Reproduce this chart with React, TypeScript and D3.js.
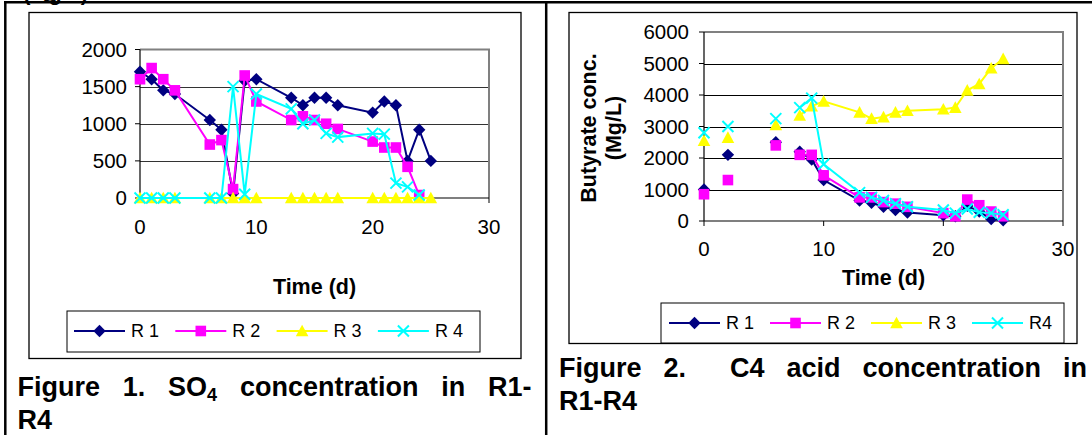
import React, { useLayoutEffect, useRef } from 'react';
import * as d3 from 'd3';

const FONT = 'Arial, "Liberation Sans", Helvetica, sans-serif';

// ---------- Figure 1: SO4 concentration ----------
const so4Days = [0, 1, 2, 3, 6, 7, 8, 9, 10, 13, 14, 15, 16, 17, 20, 21, 22, 23, 24, 25];
const so4R1 = [1700, 1600, 1450, 1400, 1050, 920, 60, 1580, 1600, 1350, 1250, 1350, 1350, 1250, 1150, 1300, 1250, 500, 920, 500];
const so4R2 = [1600, 1750, 1600, 1450, 720, 780, 120, 1650, 1300, 1050, 1100, 1050, 1000, 930, 760, 680, 680, 420, 40, null];
const so4R3 = [0, 0, 0, 0, 0, 0, 0, 0, 0, 0, 0, 0, 0, 0, 0, 0, 0, 0, 0, 0];
const so4R4 = [0, 0, 0, 0, 0, 0, 1500, 50, 1400, 1200, 1000, 1050, 870, 820, 870, 860, 200, 150, 40, null];
const so4YTicks = [0, 500, 1000, 1500, 2000];

// ---------- Figure 2: C4 (butyrate) concentration ----------
const c4Days = [0, 2, 6, 8, 9, 10, 13, 14, 15, 16, 17, 20, 21, 22, 23, 24, 25];
const c4IsolatedDays = [0, 2, 6]; // entered with blank rows around them: markers only
const c4R1 = [1000, 2100, 2500, 2200, 1950, 1300, 650, 580, 450, 350, 270, 180, 150, 480, 300, 60, 20];
const c4R2 = [850, 1300, 2400, 2100, 2100, 1450, 750, 750, 600, 550, 450, 250, 150, 680, 500, 300, 150];
const c4R3 = [2550, 2650, 3050, 3350, 3650, 3800, 3450, 3250, 3300, 3450, 3500, 3550, 3600, 4150, 4350, 4850, 5150];
const c4R4 = [2800, 3000, 3250, 3600, 3900, 1800, 900, 750, 650, 550, 450, 350, 250, 380, 280, 250, 200];
const c4YTicks = [0, 1000, 2000, 3000, 4000, 5000, 6000];

const xTicks = [0, 10, 20, 30];
const fig1Names = ['R 1', 'R 2', 'R 3', 'R 4'];
const fig2Names = ['R 1', 'R 2', 'R 3', 'R4'];
const colors = ['#000080', '#FF00FF', '#FFFF00', '#00FFFF'];
const markerTypes = ['diamond', 'square', 'triangle', 'x'];

const TICK_FS = 20.5;
const TITLE_FS = 21.5;
const LEGEND_FS = 18;
const CAPTION_FS = 27;

type Series = { name: string; color: string; marker: string; values: (number | null)[] };

function Marker({ type, x, y, color }: { type: string; x: number; y: number; color: string }) {
  if (type === 'diamond') {
    const r = 6.2;
    return <path d={`M${x},${y - r}L${x + r},${y}L${x},${y + r}L${x - r},${y}Z`} fill={color} />;
  }
  if (type === 'square') {
    const r = 5.3;
    return <rect x={x - r} y={y - r} width={2 * r} height={2 * r} fill={color} />;
  }
  if (type === 'triangle') {
    const r = 6.3;
    return <path d={`M${x},${y - r}L${x + r},${y + r * 0.85}L${x - r},${y + r * 0.85}Z`} fill={color} />;
  }
  const r = 5.5;
  return (
    <path
      d={`M${x - r},${y - r}L${x + r},${y + r}M${x - r},${y + r}L${x + r},${y - r}`}
      stroke={color}
      strokeWidth={2}
      fill="none"
    />
  );
}

type ChartProps = {
  box: { x: number; y: number; w: number; h: number };
  plot: { l: number; r: number; t: number; b: number };
  days: number[];
  connected: boolean[];
  series: Series[];
  yMax: number;
  yTicks: number[];
  yLabelX: number;
  xLabelY: number;
  xTitleY: number;
  yTitle: string[];
  yTitleX: number[];
  yTitleCY: number;
  gridColor: string;
  legend: { x: number; y: number; w: number; h: number; x0: number; step: number; ty: number };
};

function Chart(p: ChartProps) {
  const x = d3.scaleLinear().domain([0, 30]).range([p.plot.l, p.plot.r]);
  const y = d3.scaleLinear().domain([0, p.yMax]).range([p.plot.b, p.plot.t]);
  return (
    <g>
      <rect x={p.box.x} y={p.box.y} width={p.box.w} height={p.box.h} fill="#fff" stroke="#000" strokeWidth={1.3} />
      {/* gridlines */}
      {p.yTicks.filter((t) => t > 0 && t < p.yMax).map((t) => (
        <line key={t} x1={p.plot.l} x2={p.plot.r} y1={Math.round(y(t)) + 0.5} y2={Math.round(y(t)) + 0.5} stroke={p.gridColor} strokeWidth={1} />
      ))}
      {/* plot border top/right */}
      <path
        d={`M${p.plot.l},${y(p.yMax)}H${p.plot.r}V${p.plot.b}`}
        fill="none"
        stroke="#808080"
        strokeWidth={2}
      />
      {/* axes */}
      <line x1={p.plot.l} x2={p.plot.l} y1={y(p.yMax)} y2={p.plot.b} stroke="#000" strokeWidth={1.2} />
      <line x1={p.plot.l} x2={p.plot.r} y1={p.plot.b} y2={p.plot.b} stroke="#000" strokeWidth={1.2} />
      {p.yTicks.map((t) => (
        <g key={t}>
          <line x1={p.plot.l - 5} x2={p.plot.l} y1={y(t)} y2={y(t)} stroke="#000" strokeWidth={1} />
          <text x={p.yLabelX} y={y(t) + TICK_FS * 0.36} textAnchor="end" fontSize={TICK_FS}>
            {t}
          </text>
        </g>
      ))}
      {xTicks.map((t) => (
        <g key={t}>
          <line x1={x(t)} x2={x(t)} y1={p.plot.b} y2={p.plot.b + 5} stroke="#000" strokeWidth={1} />
          <text x={x(t)} y={p.xLabelY} textAnchor="middle" fontSize={TICK_FS}>
            {t}
          </text>
        </g>
      ))}
      {/* series */}
      {p.series.map((s) => {
        const line = d3
          .line<number | null>()
          .defined((v, i) => v != null && p.connected[i])
          .x((_, i) => x(p.days[i]))
          .y((v) => y(v as number));
        return (
          <g key={s.name}>
            <path d={line(s.values) || ''} fill="none" stroke={s.color} strokeWidth={2} />
            {s.values.map((v, i) =>
              v == null ? null : <Marker key={i} type={s.marker} x={x(p.days[i])} y={y(v)} color={s.color} />
            )}
          </g>
        );
      })}
      {/* titles */}
      <text x={(p.plot.l + p.plot.r) / 2} y={p.xTitleY} textAnchor="middle" fontSize={TITLE_FS} fontWeight="bold">
        Time (d)
      </text>
      {p.yTitle.map((t, i) => (
        <text
          key={t}
          transform={`translate(${p.yTitleX[i]},${p.yTitleCY}) rotate(-90)`}
          textAnchor="middle"
          fontSize={TITLE_FS}
          fontWeight="bold"
        >
          {t}
        </text>
      ))}
      {/* legend */}
      <rect x={p.legend.x} y={p.legend.y} width={p.legend.w} height={p.legend.h} fill="#fff" stroke="#000" strokeWidth={1} />
      {p.series.map((s, i) => {
        const lx = p.legend.x0 + i * p.legend.step;
        return (
          <g key={s.name}>
            <line x1={lx} x2={lx + 51} y1={p.legend.ty} y2={p.legend.ty} stroke={s.color} strokeWidth={2} />
            <Marker type={s.marker} x={lx + 25.5} y={p.legend.ty} color={s.color} />
            <text x={lx + 57} y={p.legend.ty + LEGEND_FS * 0.36} fontSize={LEGEND_FS}>
              {s.name}
            </text>
          </g>
        );
      })}
    </g>
  );
}

function JustLine({ x, y, width, children }: { x: number; y: number; width: number; children: React.ReactNode }) {
  const ref = useRef<SVGTextElement>(null);
  useLayoutEffect(() => {
    const el = ref.current;
    if (!el) return;
    el.style.wordSpacing = '0px';
    const natural = el.getComputedTextLength();
    const n = (el.textContent || '').split(' ').length - 1;
    if (n > 0) el.style.wordSpacing = `${(width - natural) / n}px`;
  }, [width]);
  return (
    <text ref={ref} x={x} y={y} fontSize={CAPTION_FS} fontWeight="bold" style={{ whiteSpace: 'pre' }}>
      {children}
    </text>
  );
}

function buildSeries(names: string[], values: (number | null)[][]): Series[] {
  return names.map((name, i) => ({ name, color: colors[i], marker: markerTypes[i], values: values[i] }));
}

export default function App() {
  const so4Series = buildSeries(fig1Names, [so4R1, so4R2, so4R3, so4R4]);
  const c4Series = buildSeries(fig2Names, [c4R1, c4R2, c4R3, c4R4]);
  return (
    <svg
      width={1092}
      height={435}
      style={{ position: 'absolute', left: 0, top: 0, background: '#fff' }}
      fontFamily={FONT}
    >
      <rect width={1092} height={435} fill="#fff" />
      {/* descender of the caption in the row above, cut off by the page edge */}
      <text x={42} y={-3} fontSize={CAPTION_FS} fontWeight="bold">
        g
      </text>
      {/* table borders */}
      <line x1={4} x2={1092} y1={2.3} y2={2.3} stroke="#000" strokeWidth={2.5} />
      <line x1={5.3} x2={5.3} y1={1} y2={435} stroke="#000" strokeWidth={2.5} />
      <line x1={546.2} x2={546.2} y1={1} y2={435} stroke="#000" strokeWidth={2.5} />

      <Chart
        box={{ x: 29, y: 12.5, w: 492, h: 346 }}
        plot={{ l: 140, r: 489, t: 49.5, b: 198 }}
        days={so4Days}
        connected={so4Days.map(() => true)}
        series={so4Series}
        yMax={2000}
        yTicks={so4YTicks}
        yLabelX={127}
        xLabelY={234}
        xTitleY={294}
        yTitle={['SO4 conc. (Mg/L)']}
        yTitleX={53}
        yTitleCY={115}
        gridColor="#333"
        legend={{ x: 67, y: 311, w: 413, h: 41, x0: 74, step: 101.3, ty: 331 }}
      />
      <Chart
        box={{ x: 569, y: 12.5, w: 508, h: 331 }}
        plot={{ l: 704, r: 1063, t: 32, b: 221 }}
        days={c4Days}
        connected={c4Days.map((d) => !c4IsolatedDays.includes(d))}
        series={c4Series}
        yMax={6000}
        yTicks={c4YTicks}
        yLabelX={689}
        xLabelY={256}
        xTitleY={285}
        yTitle={['Butyrate conc.', '(Mg/L)']}
        yTitleX={[596, 621]}
        yTitleCY={128}
        gridColor="#000"
        legend={{ x: 661, y: 303, w: 403, h: 40, x0: 669, step: 101, ty: 323 }}
      />

      {/* captions */}
      <JustLine x={17.5} y={396} width={514}>
        Figure 1. SO
        <tspan fontSize={18} dy={5}>4</tspan>
        <tspan dy={-5}> concentration in R1-</tspan>
      </JustLine>
      <text x={17.5} y={429} fontSize={CAPTION_FS} fontWeight="bold">
        R4
      </text>
      <JustLine x={559} y={377} width={528}>
        {'Figure 2.  C4 acid concentration in'}
      </JustLine>
      <text x={559} y={410} fontSize={CAPTION_FS} fontWeight="bold">
        R1-R4
      </text>
    </svg>
  );
}
